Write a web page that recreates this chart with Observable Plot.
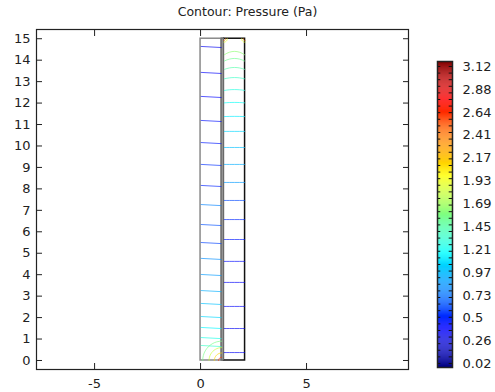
<!DOCTYPE html>
<html>
<head>
<meta charset="utf-8">
<script src="https://cdn.jsdelivr.net/npm/d3@7"></script>
<script src="https://cdn.jsdelivr.net/npm/@observablehq/plot@0.6"></script>
<style>
  html, body { margin: 0; padding: 0; background: white; }
  #wrap { position: relative; width: 495px; height: 392px; background: white; font-family: "DejaVu Sans", sans-serif; }
  #title { position: absolute; left: 0; top: 4px; width: 495px; text-align: center; font-size: 12.5px; color: #222; }
  #main { position: absolute; left: 0; top: 0; }
  #cbar { position: absolute; left: 436px; top: 0; }
</style>
</head>
<body>
<div id="wrap">
  <div id="main"></div>
  <div id="cbar"></div>
  <div id="title">Contour: Pressure (Pa)</div>
</div>
<script>
// ---- axis setup ----
const xDomain = [-7.74, 9.81];
const yDomain = [-0.42, 15.43];
const xTicks = [-5, 0, 5];
const yTicks = [0, 1, 2, 3, 4, 5, 6, 7, 8, 9, 10, 11, 12, 13, 14, 15];

// ---- geometry (domains) ----
const domainX1 = [0, 1.0, 1.1];
const domainX2 = [1.0, 1.1, 2.1];
const domainY1 = [0, 0, 0];
const domainY2 = [15, 15, 15];
const domainStroke = ["#8a8a8a", "#777777", "#111111"];

// ---- contour lines, left channel ----
const leftY = [14.64, 13.43, 12.31, 11.19, 10.16, 9.14, 8.16, 7.27, 6.34, 5.50, 4.76, 4.01, 3.26, 2.66, 2.05, 1.54, 1.07, 0.70];
const leftV = [0.33, 0.36, 0.38, 0.42, 0.45, 0.52, 0.48, 0.78, 0.62, 0.58, 0.82, 0.86, 0.92, 0.98, 1.05, 1.15, 1.25, 1.35];

// ---- contour lines, right channel ----
const rightY = [14.41, 14.08, 13.66, 13.19, 12.63, 12.03, 11.38, 10.68, 9.93, 9.14, 8.30, 7.46, 6.57, 5.64, 4.62, 3.64, 2.52, 1.49, 0.37];
const rightV = [1.62, 1.52, 1.44, 1.36, 1.28, 1.20, 1.12, 1.05, 0.98, 0.92, 0.86, 0.60, 0.50, 0.45, 0.40, 0.36, 0.36, 0.34, 0.35];
const rightSag = [0.16, 0.12, 0.09, 0.06, 0.04, 0.02, 0.01, 0, 0, 0, 0, 0, 0, 0, 0, 0, 0, 0, 0];

// ---- corner arcs ----
const bottomArcR = [0.15, 0.35, 0.6, 0.9];
const bottomArcV = [2.6, 2.1, 1.8, 1.55];
const topArcR = [0.08, 0.16];
const topArcV = [2.4, 1.9];

// ---- colour bar ----
const cbTicks = [0.02, 0.26, 0.5, 0.73, 0.97, 1.21, 1.45, 1.69, 1.93, 2.17, 2.41, 2.64, 2.88, 3.12];
const cbDomain = [-0.022, 3.172];
const cbLevelCount = 45;

// jet colormap
const jetStops = [0, 0.125, 0.375, 0.625, 0.875, 1];
const jetColors = ["#000080", "#0000ff", "#00ffff", "#ffff00", "#ff0000", "#800000"];
const vMin = cbDomain[0], vMax = cbDomain[1];
const colorScale = {
  type: "linear",
  domain: jetStops.map(t => vMin + t * (vMax - vMin)),
  range: jetColors,
  clamp: true
};

// build tables
const domains = domainX1.map((d, i) => ({x1: d, x2: domainX2[i], y1: domainY1[i], y2: domainY2[i], stroke: domainStroke[i]}));
const lines = [];
leftY.forEach((y, i) => {
  lines.push({id: "L" + i, x: 0.03, y, v: leftV[i]});
  lines.push({id: "L" + i, x: 0.97, y: y - 0.05, v: leftV[i]});
});
rightY.forEach((y, i) => {
  const x0 = 1.12, x1 = 2.08, mid = (x0 + x1) / 2, hw = (x1 - x0) / 2;
  for (let k = 0; k <= 8; k++) {
    const x = x0 + k * (x1 - x0) / 8;
    const u = (x - mid) / hw;
    lines.push({id: "R" + i, x, y: y - rightSag[i] * u * u, v: rightV[i]});
  }
});
bottomArcR.forEach((r, i) => {
  for (let k = 0; k <= 12; k++) {
    const a = Math.PI / 2 + k * (Math.PI / 2) / 12;
    lines.push({id: "B" + i, x: 1.0 + r * Math.cos(a), y: r * Math.sin(a), v: bottomArcV[i]});
  }
});
[1.1, 2.1].forEach((cx, j) => {
  topArcR.forEach((r, i) => {
    for (let k = 0; k <= 12; k++) {
      const a = (j === 0 ? -Math.PI / 2 : -Math.PI) + k * (Math.PI / 2) / 12;
      lines.push({id: "T" + j + "_" + i, x: cx + r * Math.cos(a), y: 15 + r * Math.sin(a), v: topArcV[i]});
    }
  });
});

const fmt = d => String(d);

const main = Plot.plot({
  width: 495, height: 392,
  marginLeft: 36, marginRight: 87, marginTop: 29, marginBottom: 23,
  x: {domain: xDomain},
  y: {domain: yDomain},
  color: colorScale,
  style: {fontFamily: "DejaVu Sans, sans-serif", fontSize: "13px", color: "#222", background: "transparent"},
  marks: [
    Plot.rect(domains, {x1: "x1", x2: "x2", y1: "y1", y2: "y2", fill: "white", stroke: d => d.stroke, strokeWidth: 1.5}),
    Plot.rect(domains.filter((d, i) => i === 1), {x1: "x1", x2: "x2", y1: "y1", y2: "y2", fill: "#9a9a9a", stroke: "#6f6f6f", strokeWidth: 1}),
    Plot.line(lines, {x: "x", y: "y", z: "id", stroke: "v", strokeWidth: 1, strokeOpacity: 0.65}),
    Plot.frame({stroke: "#222", strokeWidth: 1.2}),
    Plot.axisX({ticks: xTicks, tickSize: 0, tickPadding: 9, tickFormat: fmt}),
    Plot.axisX({ticks: xTicks, anchor: "bottom", text: null, tickSize: 6, dy: -6, stroke: "#222"}),
    Plot.axisX({ticks: xTicks, anchor: "top", text: null, tickSize: 6, dy: 6, stroke: "#222"}),
    Plot.axisY({ticks: yTicks, tickSize: 0, tickPadding: 6, tickFormat: fmt}),
    Plot.axisY({ticks: yTicks, anchor: "left", text: null, tickSize: 6, dx: 6, stroke: "#222"}),
    Plot.axisY({ticks: yTicks, anchor: "right", text: null, tickSize: 6, dx: -6, stroke: "#222"})
  ]
});
document.getElementById("main").appendChild(main);

// colour bar
const nb = 300;
const bands = d3.range(nb).map(i => {
  const a = vMin + i * (vMax - vMin) / nb, b = vMin + (i + 1) * (vMax - vMin) / nb;
  return {a, b, v: (a + b) / 2};
});
const levels = d3.range(cbLevelCount + 1).map(i => cbTicks[0] + i * (cbTicks[cbTicks.length - 1] - cbTicks[0]) / cbLevelCount);

const cbar = Plot.plot({
  width: 59, height: 392,
  marginLeft: 1, marginRight: 43, marginTop: 61, marginBottom: 25,
  x: {domain: [0, 1], axis: null},
  y: {domain: cbDomain, axis: null},
  color: colorScale,
  style: {fontFamily: "DejaVu Sans, sans-serif", fontSize: "13px", color: "#222", background: "transparent"},
  marks: [
    Plot.rect(bands, {x1: 0, x2: 1, y1: "a", y2: "b", fill: "v"}),
    Plot.ruleY(levels, {x1: 0, x2: 0.22, stroke: "#111", strokeWidth: 1}),
    Plot.ruleY(levels, {x1: 0.78, x2: 1, stroke: "#111", strokeWidth: 1}),
    Plot.frame({stroke: "#222", strokeWidth: 1.5}),
    Plot.axisY({ticks: cbTicks, anchor: "right", tickSize: 0, tickPadding: 10, tickFormat: fmt})
  ]
});
document.getElementById("cbar").appendChild(cbar);
</script>
</body>
</html>
